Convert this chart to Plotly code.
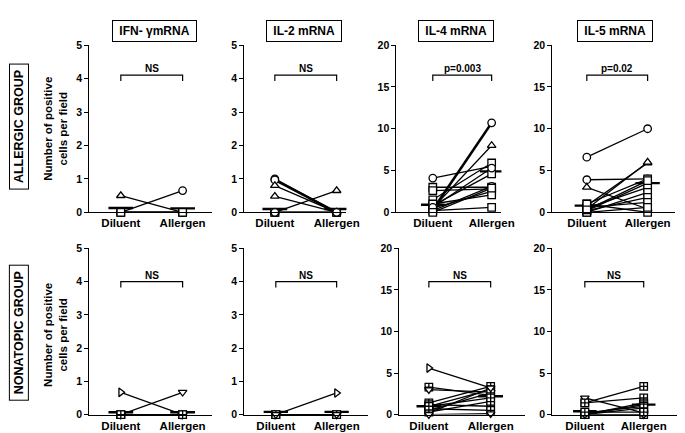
import plotly.graph_objects as go

W, H = 685, 433

# ---------------- data ----------------
conditions = ["Diluent", "Allergen"]
panel_titles = ["IFN- \u03b3mRNA", "IL-2 mRNA", "IL-4 mRNA", "IL-5 mRNA"]
group_labels = ["ALLERGIC GROUP", "NONATOPIC GROUP"]
y_ticks_small = [0, 1, 2, 3, 4, 5]
y_ticks_large = [0, 5, 10, 15, 20]
stat_labels = ["NS", "NS", "p=0.003", "p=0.02", "NS", "NS", "NS", "NS"]

# Allergic group
a_ifn_dil = [0.5, 0.0, 0.0, 0.0, 0.0, 0.0, 0.0, 0.0]
a_ifn_all = [0.0, 0.65, 0.0, 0.0, 0.0, 0.0, 0.0, 0.0]
a_ifn_med = [0.13, 0.12]

a_il2_dil = [1.0, 0.97, 0.8, 0.48, 0.0, 0.0, 0.0, 0.0, 0.0]
a_il2_all = [0.0, 0.0, 0.0, 0.0, 0.65, 0.0, 0.0, 0.0, 0.0]
a_il2_med = [0.1, 0.1]

a_il4_dil = [0.3, 0.5, 4.1, 3.0, 2.6, 1.5, 0.8, 0.2, 0.5, 1.0, 0.2, 0.6, 0.0]
a_il4_all = [10.7, 8.0, 5.5, 3.0, 2.8, 5.9, 4.6, 3.1, 2.5, 2.1, 0.6, 5.3, 2.9]
a_il4_med = [0.9, 4.9]

a_il5_dil = [6.6, 3.9, 3.0, 0.8, 0.4, 1.0, 0.2, 0.5, 0.0, 0.2, 0.6, 1.0, 0.0, 0.3]
a_il5_all = [10.0, 4.0, 0.4, 5.9, 6.0, 4.0, 3.5, 3.0, 2.4, 1.8, 1.2, 0.0, 0.6, 3.8]
a_il5_med = [0.8, 3.5]

# Nonatopic group
n_ifn_dil = [0.67, 0.0, 0.0, 0.0, 0.0, 0.0, 0.0, 0.0]
n_ifn_all = [0.0, 0.67, 0.0, 0.0, 0.0, 0.0, 0.0, 0.0]
n_ifn_med = [0.07, 0.07]

n_il2_dil = [0.0, 0.0, 0.0, 0.0, 0.0, 0.0, 0.0]
n_il2_all = [0.65, 0.0, 0.0, 0.0, 0.0, 0.0, 0.0]
n_il2_med = [0.08, 0.08]

n_il4_dil = [5.6, 3.3, 3.0, 1.4, 1.0, 0.5, 0.2, 1.2, 0.7, 0.3, 0.0, 1.0]
n_il4_all = [3.2, 2.3, 2.7, 3.4, 3.0, 2.6, 3.2, 1.0, 0.5, 1.6, 0.1, 2.0]
n_il4_med = [1.0, 2.2]

n_il5_dil = [1.4, 2.0, 1.4, 0.0, 0.0, 0.2, 0.0, 0.0, 0.0, 0.3]
n_il5_all = [3.4, 0.2, 2.0, 1.4, 1.2, 1.0, 0.0, 0.8, 0.0, 0.3]
n_il5_med = [0.4, 1.2]

# ---------------- styles ----------------
SYM = {"o": "circle", "^": "triangle-up", "s": "square",
       "v": "triangle-down", ">": "triangle-right", "S": "square-cross"}

panels = [
    dict(dil=a_ifn_dil, all=a_ifn_all, med=a_ifn_med, sym="^ooosoos", big=False,
         L=83, R=208, d=115, a=178, row=0, thick=[]),
    dict(dil=a_il2_dil, all=a_il2_all, med=a_il2_med, sym="oo^^^soso", big=False,
         L=241, R=345, d=272, a=335, row=0, thick=[1]),
    dict(dil=a_il4_dil, all=a_il4_all, med=a_il4_med, sym="o^ossssosssos", big=True,
         L=396, R=503, d=433, a=493, row=0, thick=[0]),
    dict(dil=a_il5_dil, all=a_il5_all, med=a_il5_med, sym="oo^^^sssssssss", big=True,
         L=555, R=680, d=590, a=652, row=0, thick=[]),
    dict(dil=n_ifn_dil, all=n_ifn_all, med=n_ifn_med, sym=">vvvSSvS", big=False,
         L=83, R=208, d=115, a=178, row=1, thick=[]),
    dict(dil=n_il2_dil, all=n_il2_all, med=n_il2_med, sym=">vSSvSv", big=False,
         L=241, R=367, d=273, a=335, row=1, thick=[]),
    dict(dil=n_il4_dil, all=n_il4_all, med=n_il4_med, sym=">SvSSSvSSSvS", big=True,
         L=399, R=527, d=429, a=492, row=1, thick=[]),
    dict(dil=n_il5_dil, all=n_il5_all, med=n_il5_med, sym="SvSSSSSSvS", big=True,
         L=555, R=682, d=588, a=648, row=1, thick=[]),
]
row_y = [(32, 204), (241, 412)]  # pixel top (max value) and bottom (zero)

FONT = "Arial, Liberation Sans, Helvetica, sans-serif"
fig = go.Figure()
layout = dict(width=W, height=H, margin=dict(l=0, r=0, t=0, b=0),
              paper_bgcolor="white", plot_bgcolor="white", showlegend=False,
              font=dict(family=FONT, color="black"))
annotations = []

for i, p in enumerate(panels):
    n = i + 1
    xa = "x" if n == 1 else f"x{n}"
    ya = "y" if n == 1 else f"y{n}"
    span = p["a"] - p["d"]
    xr = [(p["L"] - p["d"]) / span, (p["R"] - p["d"]) / span]
    top, bot = row_y[p["row"]]
    ymax = 20 if p["big"] else 5
    ticks = y_ticks_large if p["big"] else y_ticks_small
    layout[f"xaxis{'' if n == 1 else n}"] = dict(
        domain=[p["L"] / W, p["R"] / W], range=xr, anchor=ya,
        showline=True, linecolor="black", linewidth=1.3, showgrid=False, zeroline=False,
        tickmode="array", tickvals=[0, 1], ticktext=[f"<b>{c}</b>" for c in conditions],
        ticks="", tickfont=dict(size=11.5, family=FONT, color="black"), fixedrange=True)
    layout[f"yaxis{'' if n == 1 else n}"] = dict(
        domain=[1 - bot / H, 1 - top / H], range=[0, ymax], anchor=xa,
        showline=True, linecolor="black", linewidth=1.3, showgrid=False, zeroline=False,
        tickmode="array", tickvals=ticks, ticktext=[f"<b>{t}</b>" for t in ticks],
        ticks="outside", ticklen=4, tickwidth=1.2, tickcolor="black",
        tickfont=dict(size=10.5, family=FONT, color="black"), fixedrange=True)

    # connecting lines
    for k, (dv, av) in enumerate(zip(p["dil"], p["all"])):
        fig.add_trace(go.Scatter(
            x=[0, 1], y=[dv, av], mode="lines", xaxis=xa, yaxis=ya,
            line=dict(color="black", width=2.6 if k in p["thick"] else 1.3),
            cliponaxis=False, hoverinfo="skip"))
    # median bars
    for j, m in enumerate(p["med"]):
        fig.add_trace(go.Scatter(
            x=[j - 0.2, j + 0.2], y=[m, m], mode="lines", xaxis=xa, yaxis=ya,
            line=dict(color="black", width=2.4), cliponaxis=False, hoverinfo="skip"))
    # markers (white-filled, black outline)
    xs, ys, ss = [], [], []
    for k, (dv, av) in enumerate(zip(p["dil"], p["all"])):
        s = SYM[p["sym"][k]]
        xs += [0, 1]
        ys += [dv, av]
        ss += [s, s]
    fig.add_trace(go.Scatter(
        x=xs, y=ys, mode="markers", xaxis=xa, yaxis=ya, cliponaxis=False,
        marker=dict(symbol=ss, size=7.5, color="white", line=dict(width=1.3, color="black")),
        hoverinfo="skip"))
    # significance bracket
    lvl = 0.82 * ymax if p["row"] == 0 else 0.80 * ymax
    drop = 0.035 * ymax
    fig.add_trace(go.Scatter(
        x=[0, 0, 1, 1], y=[lvl - drop, lvl, lvl, lvl - drop], mode="lines",
        xaxis=xa, yaxis=ya, line=dict(color="black", width=1.2), hoverinfo="skip"))
    annotations.append(dict(
        x=0.5, y=lvl, xref=xa, yref=ya, text=f"<b>{stat_labels[i]}</b>", showarrow=False,
        xanchor="center", yanchor="bottom", yshift=-1,
        font=dict(size=10, family=FONT, color="black")))

# panel titles (boxed)
title_centers = [149, 302, 457, 619]
for t, cx in zip(panel_titles, title_centers):
    annotations.append(dict(
        x=cx / W, y=1 - 17 / H, xref="paper", yref="paper",
        text=f"<b>\u00a0{t}\u00a0</b>",
        xanchor="center", yanchor="middle",
        showarrow=False, bordercolor="black", borderwidth=1, borderpad=3,
        bgcolor="white", font=dict(size=12, family=FONT, color="black")))

# group labels (boxed, rotated)
for g, cy in zip(group_labels, [116, 328]):
    annotations.append(dict(
        x=11 / W, y=1 - cy / H, xref="paper", yref="paper", text=f"<b>\u00a0{g}\u00a0</b>",
        xanchor="center", yanchor="middle",
        showarrow=False, textangle=-90, bordercolor="black", borderwidth=1, borderpad=2,
        bgcolor="white", font=dict(size=12.5, family=FONT, color="black")))

# y-axis titles
for cy in [118, 330]:
    annotations.append(dict(
        x=49 / W, y=1 - cy / H, xref="paper", yref="paper",
        xanchor="center", yanchor="middle",
        text="<b>Number of positive<br>cells per field</b>", showarrow=False, textangle=-90,
        font=dict(size=11.5, family=FONT, color="black")))

layout["annotations"] = annotations
fig.update_layout(**layout)
fig.write_html("out.html")
